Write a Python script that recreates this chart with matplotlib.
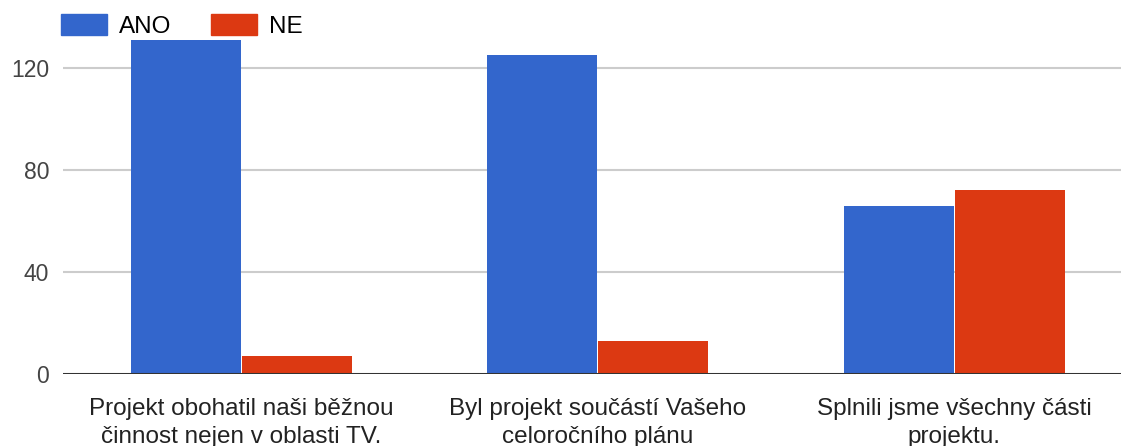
import numpy as np
import matplotlib.pyplot as plt
from matplotlib.patches import Patch

categories = [
    "Projekt obohatil naši běžnou\nčinnost nejen v oblasti TV.",
    "Byl projekt součástí Vašeho\nceloročního plánu",
    "Splnili jsme všechny části\nprojektu.",
]
ano = [131, 125, 66]
ne = [7, 13, 72]
series_names = ["ANO", "NE"]
colors = ["#3366CC", "#DC3912"]
yticks = [0, 40, 80, 120]

plt.rcParams['font.family'] = ['Liberation Sans', 'DejaVu Sans']

W, H = 1121, 446
fig = plt.figure(figsize=(W / 100, H / 100), dpi=100)
ax = fig.add_axes([63 / W, 72 / H, (W - 63) / W, (374 - 16.6) / H])

x = np.arange(len(categories))
width = 0.308
ax.bar(x - 0.156, ano, width, color=colors[0], zorder=3)
ax.bar(x + 0.156, ne, width, color=colors[1], zorder=3)

ax.set_xlim(-0.5, (W - 63) / 356.5 - 0.5)
ax.set_ylim(0, 140)
ax.set_yticks(yticks)
ax.set_yticklabels([str(t) for t in yticks], fontsize=16.5, color="#444444")
ax.set_xticks(x)
ax.set_xticklabels(categories, fontsize=17.5, color="#222222", linespacing=1.38)
ax.tick_params(axis="both", length=0)
ax.tick_params(axis="y", pad=10)
ax.tick_params(axis="x", pad=17)

for t in yticks[1:]:
    ax.axhline(t, color="#CCCCCC", lw=1.5, zorder=1)
ax.axhline(0, color="#333333", lw=2.2, zorder=4)

for s in ax.spines.values():
    s.set_visible(False)

handles = [Patch(color=c) for c in colors]
fig.legend(handles, series_names, loc="upper left", bbox_to_anchor=(61 / W, 1 - 14 / H),
           ncol=2, frameon=False, fontsize=17.5, handlelength=1.9, handleheight=0.95,
           handletextpad=0.5, columnspacing=1.6, borderpad=0, borderaxespad=0)

fig.savefig("out.png", dpi=100)
